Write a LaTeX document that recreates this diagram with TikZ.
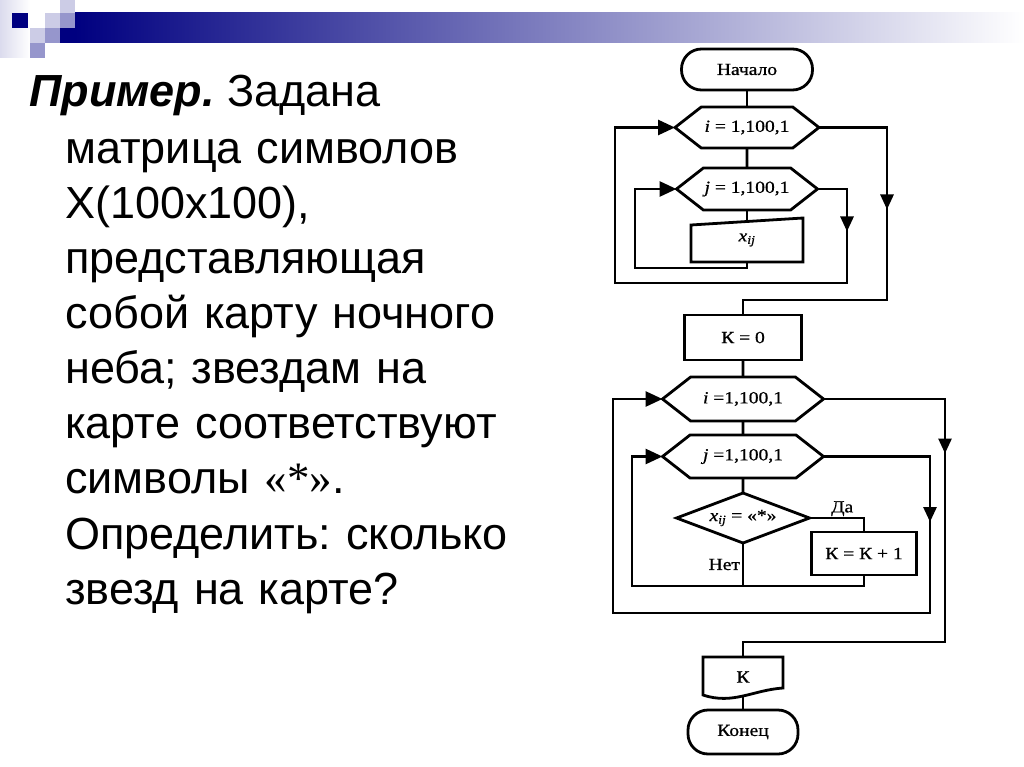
\documentclass[tikz,border=0pt]{standalone}
\usepackage{fontspec}
\setmainfont{Liberation Sans}
\newfontfamily\chartfont[FakeStretch=1.15,FakeBold=0.8]{Liberation Serif}
\newfontfamily\quotefont{Liberation Serif}
\usetikzlibrary{positioning,calc,arrows.meta,shapes.geometric,shapes.symbols,decorations.markings}

\definecolor{navyblue}{RGB}{0,0,128}
\definecolor{lavlight}{RGB}{204,204,230}
\definecolor{lavmid}{RGB}{150,150,204}
\definecolor{barmid}{RGB}{160,160,188}

\begin{document}
\begin{tikzpicture}
[line/.style={line width=2.8pt},
chart/.style={font=\chartfont\fontsize{17pt}{20pt}\selectfont, outer sep=0pt},
termnode/.style={chart, rectangle, rounded corners=20pt, draw, line width=2.8pt, inner sep=0pt},
loopnode/.style={chart, signal, signal to=east and west, signal pointer angle=76, draw, line width=2.8pt, inner sep=0pt},
procnode/.style={chart, rectangle, draw, line width=2.8pt, inner sep=0pt},
condnode/.style={chart, diamond, aspect=2.66, draw, line width=2.8pt, inner sep=0pt},
datanode/.style={chart, rectangle, inner sep=0pt},
arr/.style={-{Triangle[length=17pt,width=15pt]}},
midarr/.style={postaction={decorate}, decoration={markings, mark=at position #1 with {\arrow{Triangle[length=15pt,width=13pt]}}}},
]
\useasboundingbox (0,0) rectangle (1024pt,-767pt);

% slide decoration
\shade[left color=lavlight!70, right color=white] (0,0) rectangle (30pt,-58pt);
\shade[left color=navyblue, middle color=barmid, right color=white] (75pt,-13pt) rectangle (1024pt,-43pt);
\fill[navyblue] (12pt,-13pt) rectangle (28pt,-28pt);
\fill[lavlight] (45pt,-13pt) rectangle (60pt,-28pt);
\fill[lavlight] (60pt,0pt) rectangle (75pt,-13pt);
\fill[lavmid] (60pt,-13pt) rectangle (75pt,-28pt);
\fill[lavlight] (30pt,-28pt) rectangle (45pt,-43pt);
\fill[lavmid] (45pt,-28pt) rectangle (60pt,-43pt);
\fill[navyblue] (60pt,-28pt) rectangle (75pt,-43pt);
\fill[lavmid] (30pt,-43pt) rectangle (45pt,-58pt);

% task text
\node[anchor=base west, inner sep=0pt, font=\fontsize{45pt}{55pt}\selectfont] (title) at (29pt,-107pt) {\frenchspacing\textbf{\textit{Пример.}} Задана};
\node[anchor=base west, inner sep=0pt, text width=520pt, align=left, font=\fontsize{45pt}{55pt}\selectfont] (task) at (65pt,-164pt)
{\frenchspacing матрица символов\\ X(100x100),\\ представляющая\\ собой карту ночного\\ неба; звездам на\\ карте соответствуют\\ символы {\quotefont «*»}.\\ Определить: сколько\\ звезд на карте?};

% flowchart
\node[termnode, minimum width=131pt, minimum height=41pt] (start) at (747pt,-69.5pt) {Начало};
\node[loopnode, minimum width=144pt, minimum height=41pt] (i1) [below=17pt of start] {\textit{i} = 1,100,1};
\node[loopnode, minimum width=141pt, minimum height=42pt] (j1) [below=20pt of i1] {\textit{j} = 1,100,1};
\node[datanode, minimum width=112pt, minimum height=44pt] (xij) [below=8pt of j1] {\textit{x}\textsubscript{\textit{ij}}};
\node[procnode, minimum width=117pt, minimum height=45pt] (K0) [below=53pt of xij, xshift=-4pt] {К = 0};
\node[loopnode, minimum width=161pt, minimum height=44pt] (i2) [below=17pt of K0] {\textit{i} =1,100,1};
\node[loopnode, minimum width=161pt, minimum height=43pt] (j2) [below=14pt of i2] {\textit{j} =1,100,1};
\node[condnode, minimum width=133pt, minimum height=50pt] (dec) [below=15pt of j2] {\textit{x}\textsubscript{\textit{ij}} = «*»};
\node[procnode, minimum width=105pt, minimum height=43pt] (inc) [below right=14pt and 2pt of dec.east] {К = К + 1};
\node[datanode, minimum width=80pt, minimum height=40pt] (Kout) [below=114pt of dec] {К};
\node[termnode, minimum width=110pt, minimum height=44pt] (stop) [below=13pt of Kout] {Конец};

% shapes drawn by hand
\draw[line] ([yshift=-7pt]xij.north west) -- (xij.north east) -- (xij.south east) -- (xij.south west) -- cycle;
\draw[line] ([yshift=2pt]Kout.south west) -- (Kout.north west) -- (Kout.north east) -- ([yshift=9pt]Kout.south east)
  .. controls +(-30pt,-2pt) and +(30pt,-10pt) .. ([yshift=2pt]Kout.south west) -- cycle;

\coordinate (iout) at (887pt,-300pt);
\coordinate (jout) at (847pt,-283pt);
\coordinate (iback) at (615pt,-283pt);
\coordinate (jback) at (635pt,-268pt);
\coordinate (iout2) at (945pt,-642pt);
\coordinate (jout2) at (930pt,-613pt);
\coordinate (iback2) at (613pt,-613pt);
\coordinate (jback2) at (632pt,-586pt);

\draw[line] (start) -- (i1);
\draw[line] (i1) -- (j1);
\draw[line] (j1.south) -- ([yshift=-3.5pt]xij.north);
\draw[line, arr] (xij.south) |- (jback) |- (j1.west);
\draw[line, arr, midarr=72pt] (j1.east) -| (jout) -- (iback) |- (i1.west);
\draw[line, midarr=150pt] (i1.east) -| (iout) -| (K0.north);

\draw[line] (K0) -- (i2);
\draw[line] (i2) -- (j2);
\draw[line] (j2) -- (dec);
\draw[line] (dec.east) -| (inc.north) node[chart, pos=0.3, above, inner sep=2pt] {Да};
\draw[line] (dec.south) -- (dec.south |- jback2) node[chart, midway, left, inner sep=3pt] {Нет};
\draw[line, arr] (inc.south) |- (jback2) |- (j2.west);
\draw[line, arr, midarr=172pt] (j2.east) -| (jout2) -- (iback2) |- (i2.west);
\draw[line, midarr=176pt] (i2.east) -| (iout2) -| (Kout.north);
\draw[line] (Kout.south) -- (stop);
\end{tikzpicture}
\end{document}
